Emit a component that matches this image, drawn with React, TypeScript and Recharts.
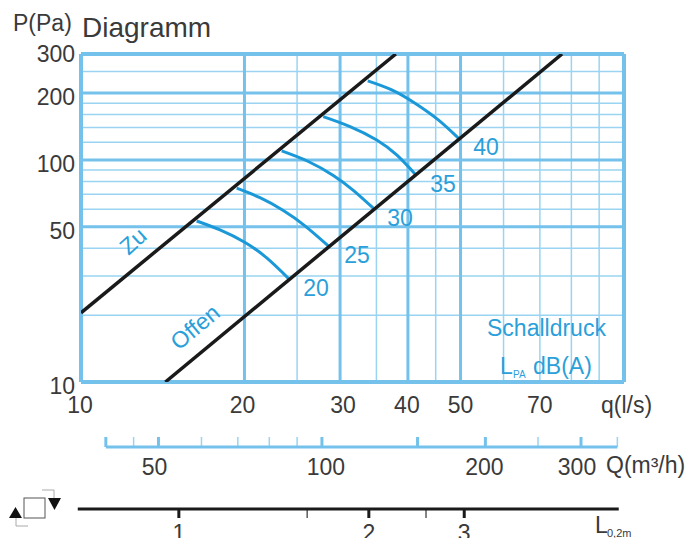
import { LineChart, Line, XAxis, YAxis, ReferenceLine } from 'recharts'

const FONT = '"Liberation Sans", Arial, sans-serif'
const GRID_BLUE = '#74c2ec'
const THIN_BLUE = '#9ad4f2'
const CURVE_BLUE = '#1b98d8'
const LABEL_BLUE = '#2b9fd9'
const DARK = '#3a3a3a'

// main diagram, q in l/s and P in Pa
const qTicks = [10, 20, 30, 40, 50, 70]
const pTicks = [10, 50, 100, 200, 300]
const qMajor = [20, 30, 40, 50]
const qMinor = [25, 35, 45, 60, 70, 80, 90]
const pMajor = [50, 100, 200]
const pMinor = [20, 30, 40, 60, 70, 80, 90, 120, 140, 160, 180, 250]

const zuQ = [10, 38]
const zuP = [20.5, 300]
const offenQ = [14.3, 76.9]
const offenP = [10, 300]

const curve20Q = [16.33, 18.03, 20.05, 21.98, 24.09]
const curve20P = [53.1, 48.4, 42.5, 36.2, 29.3]
const curve25Q = [19.35, 21.36, 23.58, 25.85, 28.54]
const curve25P = [74.6, 67.6, 59.2, 50.5, 41.0]
const curve30Q = [23.42, 26.22, 29.15, 31.73, 34.54]
const curve30P = [109.8, 98.4, 85.1, 72.9, 60.6]
const curve35Q = [27.93, 31.29, 35.04, 38.14, 41.22]
const curve35P = [156.7, 141.3, 123, 105.3, 86.5]
const curve40Q = [33.73, 37.35, 41.22, 45.5, 49.54]
const curve40P = [227, 206.7, 180, 151.4, 125.3]

// Q(m3/h) scale
const flowLabels = [50, 100, 200, 300]
const flowMajor = [40, 50, 100, 150, 200, 300]
const flowMinor = [45, 60, 70, 80, 90, 250, 350]
const flowLine = [40, 350]

// L0,2m scale, placed along the q axis
const lengthLine = [9.87, 97.8]
const lengthMajor = [15.15, 33.9, 50.8]
const lengthMinor = [26.1, 43.2]
const lengthLabels = ['1', '2', '3']

const zip = (qs: number[], ps: number[]) => qs.map((q, i) => ({ q, p: ps[i] }))

const curves = [
  zip(curve20Q, curve20P),
  zip(curve25Q, curve25P),
  zip(curve30Q, curve30P),
  zip(curve35Q, curve35P),
  zip(curve40Q, curve40P),
]

// the printed labels do not sit exactly over their ticks
const qNudge: Record<number, number> = { 10: -1, 20: -2, 30: 3, 40: -1 }
const flowNudge: Record<number, number> = { 50: -4, 100: 4, 200: -1, 300: -4 }

const PressureTick = ({ x, y, payload }: any) => (
  <text x={x} y={y + (payload.value === 300 ? 0 : 4)} textAnchor="end" dominantBaseline="central" fontSize={23} fill={DARK} fontFamily={FONT}>
    {payload.value}
  </text>
)

const BottomTick = ({ x, payload, textY, nudge, labelFor }: any) => (
  <text x={x + (nudge?.[payload.value] ?? 0)} y={textY} textAnchor="middle" fontSize={23} fill={DARK} fontFamily={FONT}>
    {labelFor ? labelFor(payload.value) : payload.value}
  </text>
)

export default function App() {
  return (
    <div style={{ position: 'absolute', left: 0, top: 0, width: 687, height: 538, background: '#fff', overflow: 'hidden' }}>
      <div style={{ position: 'absolute', left: 0, top: 0 }}>
        <LineChart width={687} height={420} margin={{ top: 54, right: 63, bottom: 8, left: 21 }}>
          <XAxis
            type="number"
            dataKey="q"
            scale="log"
            domain={[10, 100]}
            ticks={qTicks}
            interval={0}
            height={30}
            axisLine={false}
            tickLine={false}
            allowDataOverflow
            tick={(props: any) => <BottomTick {...props} textY={413} nudge={qNudge} />}
          />
          <YAxis
            type="number"
            dataKey="p"
            scale="log"
            domain={[10, 300]}
            ticks={pTicks}
            interval={0}
            width={60}
            axisLine={false}
            tickLine={false}
            tickMargin={0}
            allowDataOverflow
            tick={(props: any) => <PressureTick {...props} x={75} />}
          />
          {qMinor.map((q) => (
            <ReferenceLine key={q} x={q} stroke={THIN_BLUE} strokeWidth={1.5} />
          ))}
          {pMinor.map((p) => (
            <ReferenceLine key={p} y={p} stroke={THIN_BLUE} strokeWidth={1.5} />
          ))}
          {qMajor.map((q) => (
            <ReferenceLine key={q} x={q} stroke={GRID_BLUE} strokeWidth={3} />
          ))}
          {pMajor.map((p) => (
            <ReferenceLine key={p} y={p} stroke={GRID_BLUE} strokeWidth={3} />
          ))}
          <ReferenceLine x={10} stroke={GRID_BLUE} strokeWidth={4} />
          <ReferenceLine x={100} stroke={GRID_BLUE} strokeWidth={4} />
          <ReferenceLine y={10} stroke={GRID_BLUE} strokeWidth={4} />
          <ReferenceLine y={300} stroke={GRID_BLUE} strokeWidth={4} />
          {curves.map((c, i) => (
            <Line key={i} data={c} dataKey="p" type="natural" stroke={CURVE_BLUE} strokeWidth={3} dot={false} isAnimationActive={false} />
          ))}
          <Line data={zip(zuQ, zuP)} dataKey="p" stroke="#1a1a1a" strokeWidth={3.5} dot={false} isAnimationActive={false} />
          <Line data={zip(offenQ, offenP)} dataKey="p" stroke="#1a1a1a" strokeWidth={3.5} dot={false} isAnimationActive={false} />
        </LineChart>
      </div>

      <div style={{ position: 'absolute', left: 0, top: 420 }}>
        <LineChart width={687} height={60} margin={{ top: 17, right: 63, bottom: 0, left: 81 }}>
          <XAxis
            type="number"
            dataKey="q"
            scale="log"
            domain={[36, 360]}
            ticks={flowLabels}
            interval={0}
            height={33}
            axisLine={false}
            tickLine={false}
            allowDataOverflow
            tick={(props: any) => <BottomTick {...props} textY={55} nudge={flowNudge} />}
          />
          <YAxis hide type="number" domain={[0, 1]} />
          {flowMinor.map((q) => (
            <ReferenceLine key={q} segment={[{ x: q, y: 0 }, { x: q, y: 1 }]} stroke={THIN_BLUE} strokeWidth={1.5} />
          ))}
          {flowMajor.map((q) => (
            <ReferenceLine key={q} segment={[{ x: q, y: 0 }, { x: q, y: 1 }]} stroke={GRID_BLUE} strokeWidth={3} />
          ))}
          <Line data={flowLine.map((q) => ({ q, p: 0 }))} dataKey="p" stroke={GRID_BLUE} strokeWidth={3} dot={false} isAnimationActive={false} />
        </LineChart>
      </div>

      <div style={{ position: 'absolute', left: 0, top: 490 }}>
        <LineChart width={687} height={48} margin={{ top: 19, right: 63, bottom: 0, left: 56 }}>
          <XAxis
            type="number"
            dataKey="q"
            scale="log"
            domain={[9, 100]}
            ticks={lengthMajor}
            interval={0}
            height={20}
            axisLine={false}
            tickLine={false}
            allowDataOverflow
            tick={(props: any) => (
              <BottomTick {...props} textY={51} labelFor={(v: number) => lengthLabels[lengthMajor.indexOf(v)]} />
            )}
          />
          <YAxis hide type="number" domain={[0, 1]} />
          {lengthMinor.map((q) => (
            <ReferenceLine key={q} segment={[{ x: q, y: 0 }, { x: q, y: 1 }]} stroke="#333" strokeWidth={1.2} />
          ))}
          {lengthMajor.map((q) => (
            <ReferenceLine key={q} segment={[{ x: q, y: 0 }, { x: q, y: 1 }]} stroke="#1a1a1a" strokeWidth={3} />
          ))}
          <Line data={lengthLine.map((q) => ({ q, p: 1 }))} dataKey="p" stroke="#1a1a1a" strokeWidth={3} dot={false} isAnimationActive={false} />
        </LineChart>
      </div>

      <svg width={687} height={538} style={{ position: 'absolute', left: 0, top: 0, pointerEvents: 'none' }} fontFamily={FONT}>
        <text x={13} y={31} fontSize={23} fill={DARK}>P(Pa)</text>
        <text x={82} y={37} fontSize={28} fill={DARK}>Diagramm</text>
        <text x={601} y={413} fontSize={23} fill={DARK}>q(l/s)</text>
        <text x={606} y={473} fontSize={23} fill={DARK}>Q(m³/h)</text>

        <g fontSize={23} fill={LABEL_BLUE} textAnchor="middle">
          <text x={316} y={296}>20</text>
          <text x={357} y={263}>25</text>
          <text x={400} y={226}>30</text>
          <text x={443} y={192}>35</text>
          <text x={486} y={155}>40</text>
          <text transform="translate(133,241) rotate(-42)" dy={8}>Zu</text>
          <text transform="translate(195,327) rotate(-40)" dy={8}>Offen</text>
        </g>
        <text x={487} y={336} fontSize={23} fill={LABEL_BLUE}>Schalldruck</text>
        <text x={500} y={374} fontSize={23} fill={LABEL_BLUE}>L</text>
        <text x={513} y={378} fontSize={10} fill={LABEL_BLUE}>PA</text>
        <text x={533} y={374} fontSize={23} fill={LABEL_BLUE}>dB(A)</text>

        <text x={595} y={533} fontSize={23} fill={DARK}>L</text>
        <text x={607} y={537} fontSize={11} fill={DARK}>0,2m</text>

        <rect x={24} y={498} width={21} height={20} fill="#fff" stroke="#555" strokeWidth={1} />
        <path d="M9 518 L22 518 L15.5 507 Z" fill="#111" />
        <path d="M48 498 L61 498 L54.5 510 Z" fill="#111" />
        <path d="M42 490 L54 490 L54 498 M16 518 L16 526 L28 526" fill="none" stroke="#aaa" strokeWidth={1} />
      </svg>
    </div>
  )
}
